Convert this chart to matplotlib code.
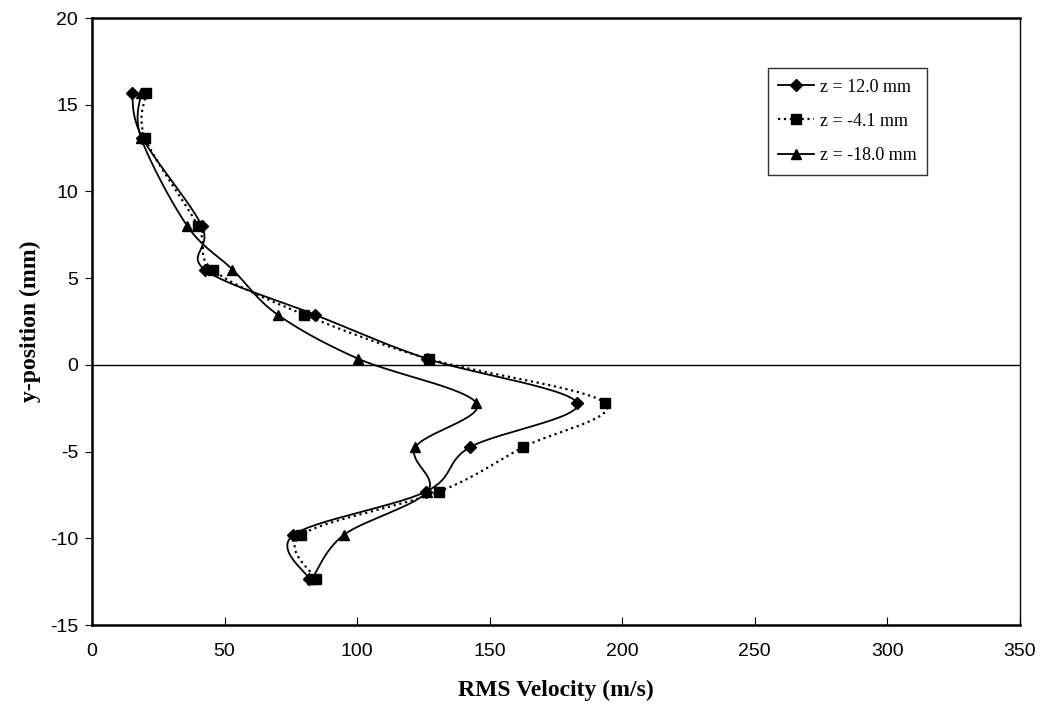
import numpy as np
import matplotlib.pyplot as plt

plt.rcParams["axes.unicode_minus"] = False

# Measurement heights (mm) and RMS velocities (m/s) at three z-planes
y_pos = [15.7, 13.1, 8.0, 5.5, 2.9, 0.35, -2.2, -4.75, -7.3, -9.8, -12.35]
rms_z12 = [15, 19, 41.5, 42.5, 84, 126.5, 183, 142.5, 126, 76, 82]
rms_zm4 = [20.5, 20, 40, 45.5, 80, 127, 193.5, 162.5, 131, 79, 84.5]
rms_zm18 = [18.5, 18.5, 36, 53, 70, 100.5, 145, 122, 126.5, 95, 83]


def smooth(xs, ys, n=30):
    # parametric Catmull-Rom curve through the points (spreadsheet-style smoothing)
    p = np.column_stack([xs, ys]).astype(float)
    p = np.vstack([p[0], p, p[-1]])
    out = []
    t = np.linspace(0, 1, n)[:, None]
    for i in range(1, len(p) - 2):
        p0, p1, p2, p3 = p[i - 1], p[i], p[i + 1], p[i + 2]
        seg = 0.5 * ((2 * p1) + (-p0 + p2) * t + (2 * p0 - 5 * p1 + 4 * p2 - p3) * t ** 2
                     + (-p0 + 3 * p1 - 3 * p2 + p3) * t ** 3)
        out.append(seg)
    out = np.vstack(out)
    return out[:, 0], out[:, 1]


fig = plt.figure(figsize=(10.45, 7.21), dpi=100)
ax = fig.add_axes([0.088, 0.133, 0.888, 0.842])

series = [
    (rms_z12, "z = 12.0 mm", "D", "-", 6),
    (rms_zm4, "z = -4.1 mm", "s", ":", 6.5),
    (rms_zm18, "z = -18.0 mm", "^", "-", 7.5),
]
handles = []
for vals, label, marker, ls, ms in series:
    sx, sy = smooth(vals, y_pos)
    lw = 1.3 if ls == "-" else 1.6
    ax.plot(sx, sy, color="black", linestyle=ls, linewidth=lw)
    ax.plot(vals, y_pos, linestyle="none", marker=marker, color="black", markersize=ms)
    h, = ax.plot([], [], color="black", linestyle=ls, marker=marker, markersize=ms,
                 linewidth=lw, label=label)
    handles.append(h)

ax.axhline(0, color="black", linewidth=1.0)

ax.set_xlim(0, 350)
ax.set_ylim(-15, 20)
ax.set_xticks(np.arange(0, 351, 50))
ax.set_yticks(np.arange(-15, 21, 5))
ax.tick_params(axis="x", direction="in", length=6, width=0.8, pad=13, labelsize=14)
ax.tick_params(axis="y", direction="out", length=5, width=0.8, pad=5, labelsize=14)
for lab in ax.get_xticklabels() + ax.get_yticklabels():
    lab.set_family("Liberation Sans")

for side in ["left", "bottom", "top"]:
    ax.spines[side].set_linewidth(1.8)
ax.spines["right"].set_linewidth(1.0)

ax.set_xlabel("RMS Velocity (m/s)", family="Liberation Serif", fontweight="bold",
              fontsize=17, labelpad=14)
ax.set_ylabel("y-position (mm)", family="Liberation Serif", fontweight="bold",
              fontsize=17, labelpad=6)

leg = ax.legend(handles=handles, loc="upper left", bbox_to_anchor=(0.728, 0.918),
                prop={"family": "Liberation Serif", "size": 13}, frameon=True,
                fancybox=False, edgecolor="black", handlelength=2.0,
                borderpad=0.6, labelspacing=0.95, handletextpad=0.3,
                borderaxespad=0)
leg.get_frame().set_linewidth(1.0)

fig.savefig("out.png", dpi=100)
